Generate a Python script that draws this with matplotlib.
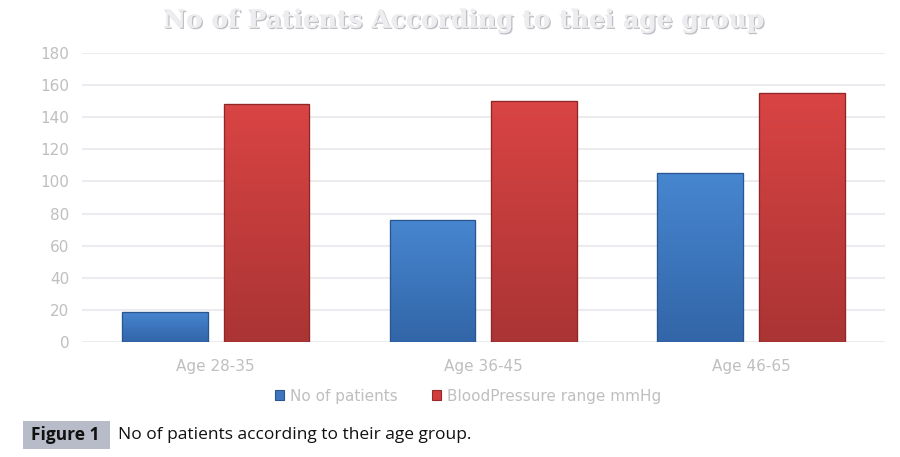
import numpy as np
import matplotlib
matplotlib.use('Agg')
import matplotlib.pyplot as plt
import matplotlib.patheffects as pe
from matplotlib.patches import Rectangle

groups = ['Age 28-35', 'Age 36-45', 'Age 46-65']
patients = [19, 76, 105]
bp_range = [148, 150, 155]
series_names = ['No of patients', 'BloodPressure range mmHg']

fig = plt.figure(figsize=(9, 4.57), dpi=100)
ax = fig.add_axes([0.091, 0.2516, 0.892, 0.6324])

x = np.arange(len(groups))
w = 0.32
blue = '#3f76bf'
red = '#cf3d3d'
b1 = ax.bar(x - 0.19, patients, w, color=blue, edgecolor='#2a568f', linewidth=0.8, zorder=3)
b2 = ax.bar(x + 0.19, bp_range, w, color=red, edgecolor='#9a2a2a', linewidth=0.8, zorder=3)

# simple vertical shading so the bars look less flat (light on top, darker at the base)
def shade(bars, top_col, bot_col, edge):
    c1 = np.array(matplotlib.colors.to_rgb(top_col))
    c2 = np.array(matplotlib.colors.to_rgb(bot_col))
    for r in bars:
        x0, y0, bw, bh = r.get_x(), r.get_y(), r.get_width(), r.get_height()
        t = np.linspace(0, 1, 64)[:, None]
        grad = (c1 * (1 - t) + c2 * t)[:, None, :]
        grad = np.repeat(grad, 2, axis=1)
        im = ax.imshow(grad, extent=[x0, x0 + bw, y0, y0 + bh], aspect='auto', zorder=3.5)
        im.set_clip_path(r)
        ax.add_patch(Rectangle((x0, y0), bw, bh, fill=False, edgecolor=edge, linewidth=0.9, zorder=4))

shade(b1, '#4786d0', '#3266a8', '#2a568f')
shade(b2, '#d94444', '#ab3434', '#8f2727')

ax.set_xlim(-0.5, 2.5)
ax.set_ylim(0, 180)
ax.set_yticks(range(0, 181, 20))
ax.set_xticks(x)
ax.set_xticklabels(groups)
ax.grid(axis='y', color='#ececf0', linewidth=1.5, zorder=0)
for s in ax.spines.values():
    s.set_visible(False)
ax.tick_params(length=0, colors='#bfbfbf', labelsize=11, pad=9)
ax.tick_params(axis='x', pad=12)

leg = fig.legend([b1, b2], series_names, loc='center', bbox_to_anchor=(0.52, 0.133), ncol=2,
                 frameon=False, fontsize=11, handlelength=0.6, handleheight=0.6,
                 columnspacing=2.2, handletextpad=0.4)
for t in leg.get_texts():
    t.set_color('#bfbfbf')

fig.text(0.515, 0.955, 'No of Patients According to thei age group', ha='center', va='center',
         fontsize=18, fontweight='bold', family='DejaVu Serif', color='#ededf0',
         path_effects=[pe.withSimplePatchShadow(offset=(1, -1), shadow_rgbFace='#b0b0b8', alpha=0.8),
                       pe.Normal()])

fig.patches.append(Rectangle((0.025, 0.017), 0.097, 0.062, transform=fig.transFigure,
                             facecolor='#b8bcc8', edgecolor='none'))
fig.text(0.073, 0.048, 'Figure 1', ha='center', va='center', fontsize=12.5, fontweight='bold',
         family='Open Sans', color='#111111')
fig.text(0.131, 0.048, 'No of patients according to their age group.', ha='left', va='center',
         fontsize=12.5, family='Open Sans', color='#111111')

fig.savefig('out.png', dpi=100)
